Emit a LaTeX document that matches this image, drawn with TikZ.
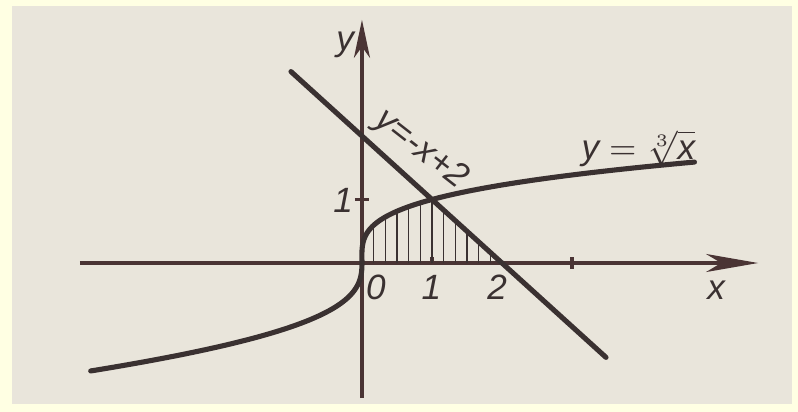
\documentclass[tikz,border=0pt]{standalone}
\usepackage{fontspec}
\setsansfont{Liberation Sans}
\usepackage{tikz}
\usetikzlibrary{arrows.meta,positioning}
\definecolor{ink}{HTML}{3a3131}
\definecolor{axisink}{HTML}{4a3434}
\definecolor{paper}{HTML}{E9E5DB}
\definecolor{margin}{HTML}{FFFFE3}
\newcommand{\lbl}{\fontsize{10}{12}\selectfont\sffamily\itshape}

\begin{document}
\begin{tikzpicture}[x=0.7cm, y=0.635cm,
    axisline/.style={axisink, line width=1.1pt},
    graphline/.style={ink, line width=1.45pt, line cap=round},
    hatch/.style={ink, line width=0.45pt},
    tick/.style={axisink, line width=0.9pt},
    txt/.style={ink, font=\lbl, inner sep=0pt}]
  % page and paper
  \fill[margin] (-5.171,-2.346) rectangle (6.229,4.142);
  \useasboundingbox (-5.171,-2.346) rectangle (6.229,4.142);
  \fill[paper] (-5.0,-2.22) rectangle (6.143,4.047);
  % axes
  \coordinate (O) at (0,0);
  \coordinate (xleft) at (-4.03,0);
  \coordinate (xtip) at (5.66,0);
  \coordinate (ybot) at (0,-2.126);
  \coordinate (ytip) at (0,3.83);
  \draw[axisline, -{Stealth[length=5.2mm, width=1.8mm, inset=1.5mm]}] (xleft) -- (xtip);
  \draw[axisline, -{Stealth[length=3.8mm, width=1.6mm, inset=1.1mm]}] (ybot) -- (ytip);
  % ticks
  \draw[tick] (-0.1,1) -- (0.1,1);
  \draw[tick] (1,0) -- (1,0.1);
  \draw[tick] (3,-0.09) -- (3,0.09);
  % y = -x + 2
  \coordinate (lineA) at (-1.014,3.014);
  \coordinate (lineB) at (3.486,-1.486);
  \coordinate (meet) at (1,1);
  \coordinate (root) at (2,0);
  % hatching, clipped to the region under both graphs
  \begin{scope}
    \clip[variable=\t, domain=0:1, samples=40, smooth]
      plot ({\t*\t*\t+0.19*(\t*\t*\t*\t-\t*\t)}, {\t}) -- (root) -- (O) -- cycle;
    \foreach \k in {1,...,11}
      \draw[hatch] (\k/6,0) -- (\k/6,2);
  \end{scope}
  % y = cube root of x (hand drawn, slightly lopsided)
  \draw[graphline, variable=\t, domain=-1.70:1.59, samples=140, smooth]
    plot ({\t*\t*\t+0.19*(\t*\t*\t*\t-\t*\t)}, {\t});
  \draw[graphline] (lineA) -- (lineB);
  % labels
  \node[txt] (ylab) at (-0.24,3.43) {y};
  \node[txt] (xlab) at (5.06,-0.43) {x};
  \node[txt] (yone) at (-0.27,0.99) {1};
  \node[txt] (xzero) at (0.2,-0.38) {0};
  \node[txt] (xone) at (0.99,-0.38) {1};
  \node[txt] (xtwo) at (1.93,-0.38) {2};
  \node[txt, rotate=-38] (linelab) at (0.84,1.78) {y=-x+2};
  \node[txt] (rootlab) at (3.95,1.8)
    {$\textsf{\itshape y}=\sqrt[3]{\textsf{\itshape x}}$};
\end{tikzpicture}
\end{document}
